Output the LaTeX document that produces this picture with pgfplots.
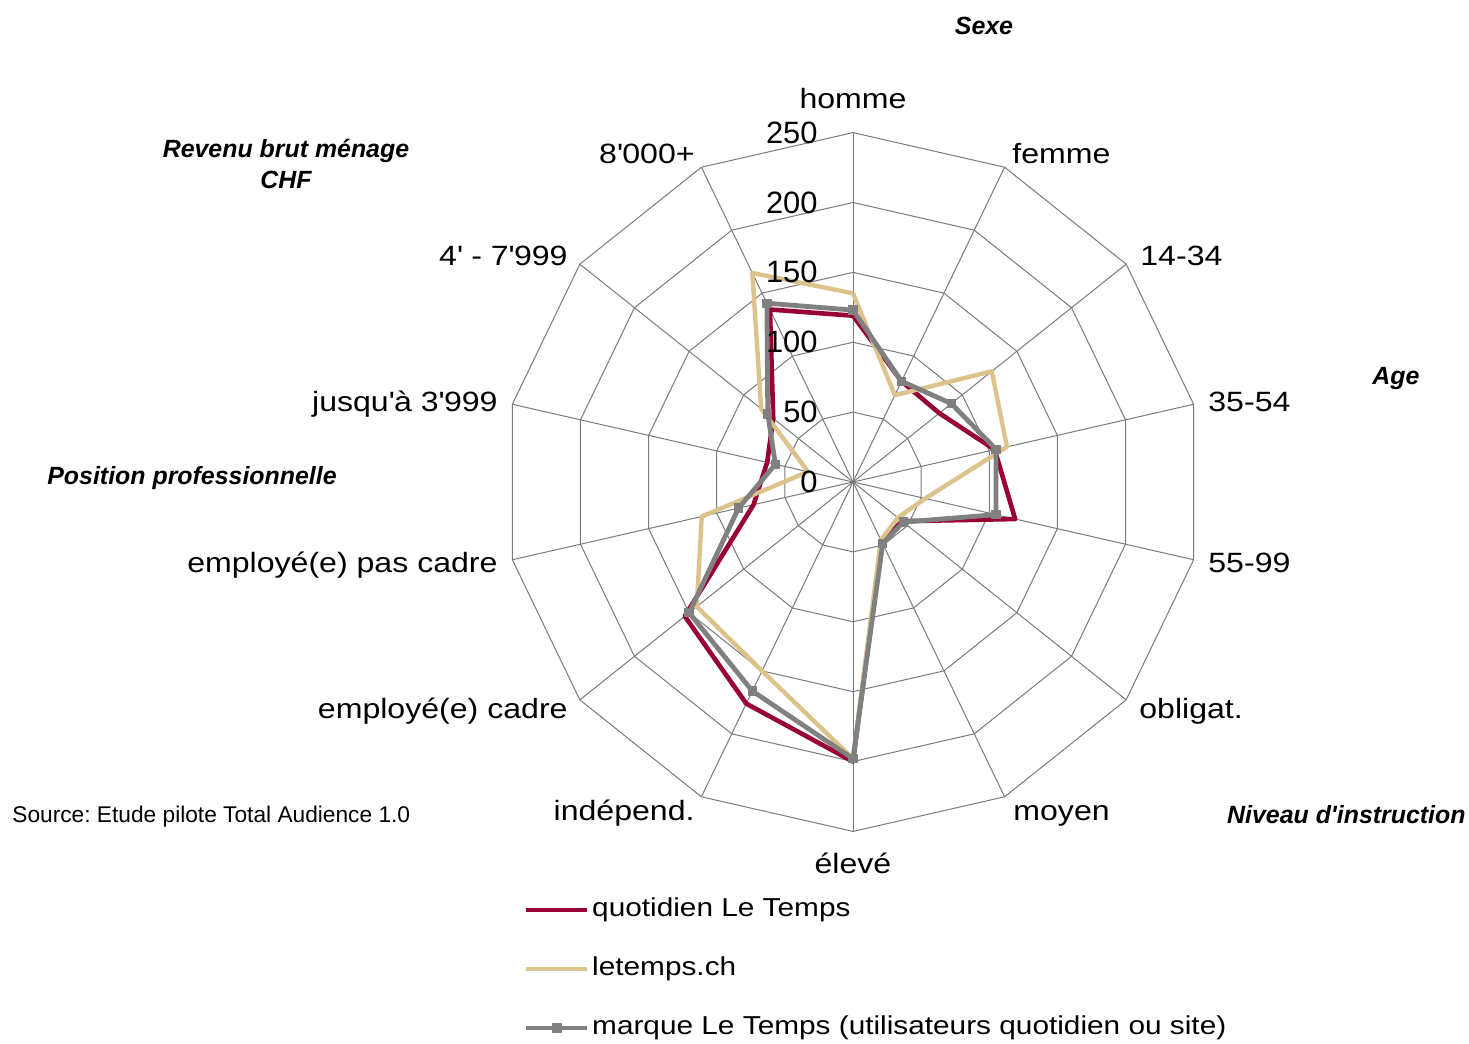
\documentclass[border=0pt]{standalone}
\usepackage{fontspec}
\setmainfont{Liberation Sans}
\newfontfamily\catfont{Liberation Sans}[FakeStretch=1.15]
\usepackage{pgfplots}
\pgfplotsset{compat=1.18}

\definecolor{ltred}{HTML}{990033}
\definecolor{ltgold}{HTML}{DCC38C}
\definecolor{ltgray}{HTML}{808080}
\definecolor{webline}{HTML}{7A7A7A}

\pgfplotsset{web/.style={draw=webline, line width=0.5bp, no markers, forget plot}}

% pixel position of the reference -> axis units (centre 853/482, 1.3976 px per unit)
\newcommand\px[1]{((#1)-853)/1.3976}
\newcommand\py[1]{(482-(#1))/1.3976}

\begin{document}
\frenchspacing
\begin{tikzpicture}[
    cat/.style={inner sep=0pt, font=\catfont\fontsize{14}{16}\selectfont},
    tick/.style={inner sep=0pt, anchor=east, font=\fontsize{15.5}{18}\selectfont},
    grp/.style={inner sep=0pt, align=center, font=\bfseries\itshape\fontsize{12.5}{15}\selectfont},
]
\begin{axis}[
    x=0.6988bp, y=0.6988bp,
    xmin=-260, xmax=260, ymin=-260, ymax=260,
    hide axis, clip=false,
    legend cell align=left,
    legend image code/.code={
        \draw[#1, mark repeat=2, mark phase=2] plot coordinates {(0bp,0bp) (15.25bp,0bp) (30.5bp,0bp)};
    },
    legend style={
        at={(0.0473,-0.071)}, anchor=north west,
        draw=none, fill=none, inner sep=0pt, outer sep=0pt,
        row sep=16.5bp, column sep=1.2bp,
        nodes={inner sep=0pt, text height=10bp, text depth=3bp},
        font=\catfont\fontsize{13}{15}\selectfont,
    },
]
% frame of the whole picture
\path (axis cs:{\px{0}},{\py{0}}) rectangle (axis cs:{\px{1469}},{\py{1043}});

% web: rings
\pgfplotsinvokeforeach{50,100,150,200,250}{
    \addplot[web, data cs=polar] coordinates {
        (90,#1) (64.2857,#1) (38.5714,#1) (12.8571,#1) (-12.8571,#1)
        (-38.5714,#1) (-64.2857,#1) (-90,#1) (-115.7143,#1) (-141.4286,#1)
        (-167.1429,#1) (167.1429,#1) (141.4286,#1) (115.7143,#1) (90,#1)
    };
}
% web: spokes
\pgfplotsinvokeforeach{90,64.2857,38.5714,12.8571,-12.8571,-38.5714,-64.2857,-90,-115.7143,-141.4286,-167.1429,167.1429,141.4286,115.7143}{
    \addplot[web, data cs=polar] coordinates {(#1,0) (#1,250)};
}

% series (angle, value)
\addplot[ltred, line width=2.3bp, line join=round, no markers, data cs=polar] coordinates {
    (90,119) (64.2857,80) (38.5714,79) (12.8571,104) (-12.8571,119)
    (-38.5714,45) (-64.2857,47) (-90,200) (-115.7143,176) (-141.4286,154)
    (-167.1429,73) (167.1429,63) (141.4286,73) (115.7143,137) (90,119)
};
\addlegendentry{quotidien Le Temps}

\addplot[ltgold, line width=2.2bp, line join=round, no markers, data cs=polar] coordinates {
    (90,135) (64.2857,69) (38.5714,127) (12.8571,113) (-12.8571,53)
    (-38.5714,41) (-64.2857,46) (-90,198) (-115.7143,150) (-141.4286,143)
    (-167.1429,111) (167.1429,33) (141.4286,84) (115.7143,166) (90,135)
};
\addlegendentry{letemps.ch}

\addplot[ltgray, line width=2.4bp, line join=round, mark=square*, mark size=2.1bp,
    mark options={solid, fill=ltgray, line width=0.5bp}, data cs=polar] coordinates {
    (90,123) (64.2857,80) (38.5714,90) (12.8571,105) (-12.8571,105)
    (-38.5714,46) (-64.2857,49) (-90,198) (-115.7143,166) (-141.4286,150)
    (-167.1429,84) (167.1429,57) (141.4286,78) (115.7143,142) (90,123)
};
\addlegendentry{marque Le Temps (utilisateurs quotidien ou site)}

% value labels
\node[tick] at (axis cs:{\px{818}},0) {0};
\node[tick] at (axis cs:{\px{818}},50) {50};
\node[tick] at (axis cs:{\px{818}},100) {100};
\node[tick] at (axis cs:{\px{818}},150) {150};
\node[tick] at (axis cs:{\px{818}},200) {200};
\node[tick] at (axis cs:{\px{818}},250) {250};

% category labels
\node[cat, anchor=base] at (axis cs:0,{\py{108}}) {homme};
\node[cat, anchor=base west] at (axis cs:{\px{1012}},{\py{163}}) {femme};
\node[cat, anchor=base west] at (axis cs:{\px{1140}},{\py{265}}) {14-34};
\node[cat, anchor=base west] at (axis cs:{\px{1208}},{\py{411}}) {35-54};
\node[cat, anchor=base west] at (axis cs:{\px{1208}},{\py{572}}) {55-99};
\node[cat, anchor=base west] at (axis cs:{\px{1139}},{\py{718}}) {obligat.};
\node[cat, anchor=base west] at (axis cs:{\px{1013}},{\py{820}}) {moyen};
\node[cat, anchor=base] at (axis cs:0,{\py{873}}) {élevé};
\node[cat, anchor=base east] at (axis cs:{\px{695}},{\py{820}}) {indépend.};
\node[cat, anchor=base east] at (axis cs:{\px{568}},{\py{718}}) {employé(e) cadre};
\node[cat, anchor=base east] at (axis cs:{\px{498}},{\py{572}}) {employé(e) pas cadre};
\node[cat, anchor=base east] at (axis cs:{\px{498}},{\py{411}}) {jusqu\textquotesingle{}à 3\textquotesingle{}999};
\node[cat, anchor=base east] at (axis cs:{\px{568}},{\py{265}}) {4\textquotesingle{} - 7\textquotesingle{}999};
\node[cat, anchor=base east] at (axis cs:{\px{695}},{\py{163}}) {8\textquotesingle{}000+};

% group titles
\node[grp, anchor=base] at (axis cs:{\px{984}},{\py{34}}) {Sexe};
\node[grp, anchor=base] at (axis cs:{\px{286}},{\py{157.5}}) {Revenu brut ménage};
\node[grp, anchor=base] at (axis cs:{\px{286}},{\py{188}}) {CHF};
\node[grp, anchor=base] at (axis cs:{\px{1396}},{\py{384}}) {Age};
\node[grp, anchor=base west] at (axis cs:{\px{47}},{\py{484}}) {Position professionnelle};
\node[grp, anchor=base east] at (axis cs:{\px{1466}},{\py{823}}) {Niveau d\textquotesingle{}instruction};
\node[inner sep=0pt, anchor=base west, font=\fontsize{11.4}{13}\selectfont]
    at (axis cs:{\px{12}},{\py{822}}) {Source: Etude pilote Total Audience 1.0};
\end{axis}
\end{tikzpicture}
\end{document}
